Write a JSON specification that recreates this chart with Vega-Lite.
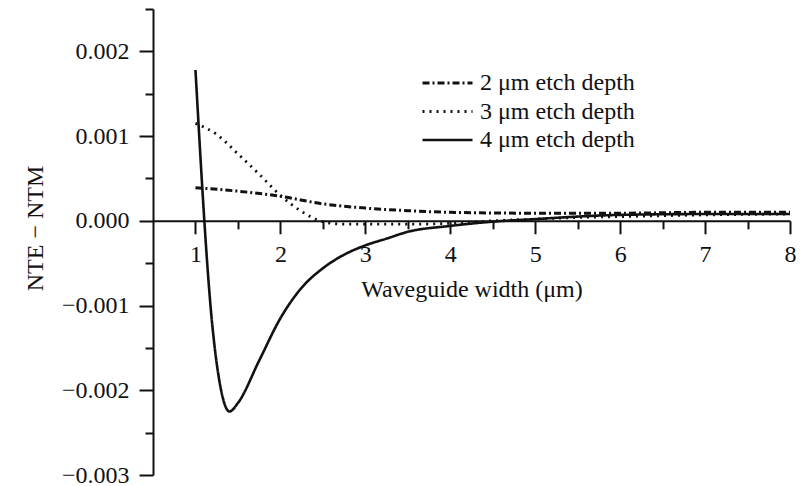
{
  "$schema": "https://vega.github.io/schema/vega-lite/v6.json",
  "width": 637,
  "height": 466,
  "autosize": {"type": "none"},
  "padding": {"left": 153, "top": 9, "right": 15, "bottom": 11},
  "background": "white",
  "config": {"view": {"stroke": null}, "font": "Liberation Serif"},
  "data": {
    "values": [
      {"series": "2 μm etch depth", "width": 1.0, "dn": 0.00039},
      {"series": "2 μm etch depth", "width": 1.5, "dn": 0.00035},
      {"series": "2 μm etch depth", "width": 2.0, "dn": 0.00029},
      {"series": "2 μm etch depth", "width": 2.5, "dn": 0.0002},
      {"series": "2 μm etch depth", "width": 3.0, "dn": 0.00015},
      {"series": "2 μm etch depth", "width": 3.5, "dn": 0.00012},
      {"series": "2 μm etch depth", "width": 4.0, "dn": 0.0001},
      {"series": "2 μm etch depth", "width": 5.0, "dn": 0.00009},
      {"series": "2 μm etch depth", "width": 6.0, "dn": 0.00009},
      {"series": "2 μm etch depth", "width": 7.0, "dn": 0.0001},
      {"series": "2 μm etch depth", "width": 8.0, "dn": 0.0001},
      {"series": "3 μm etch depth", "width": 1.0, "dn": 0.00115},
      {"series": "3 μm etch depth", "width": 1.25, "dn": 0.00102},
      {"series": "3 μm etch depth", "width": 1.5, "dn": 0.00079},
      {"series": "3 μm etch depth", "width": 1.75, "dn": 0.00055},
      {"series": "3 μm etch depth", "width": 2.0, "dn": 0.0003},
      {"series": "3 μm etch depth", "width": 2.25, "dn": 0.00011},
      {"series": "3 μm etch depth", "width": 2.5, "dn": -0.00001},
      {"series": "3 μm etch depth", "width": 2.75, "dn": -0.00004},
      {"series": "3 μm etch depth", "width": 3.0, "dn": -0.00004},
      {"series": "3 μm etch depth", "width": 3.5, "dn": -0.00004},
      {"series": "3 μm etch depth", "width": 4.0, "dn": -0.00003},
      {"series": "3 μm etch depth", "width": 4.5, "dn": 0.0},
      {"series": "3 μm etch depth", "width": 5.0, "dn": 0.00002},
      {"series": "3 μm etch depth", "width": 5.5, "dn": 0.00004},
      {"series": "3 μm etch depth", "width": 6.0, "dn": 0.00005},
      {"series": "3 μm etch depth", "width": 7.0, "dn": 0.00007},
      {"series": "3 μm etch depth", "width": 8.0, "dn": 0.00008},
      {"series": "4 μm etch depth", "width": 1.0, "dn": 0.00178},
      {"series": "4 μm etch depth", "width": 1.2, "dn": -0.00125},
      {"series": "4 μm etch depth", "width": 1.3, "dn": -0.00199},
      {"series": "4 μm etch depth", "width": 1.4, "dn": -0.00225},
      {"series": "4 μm etch depth", "width": 1.5, "dn": -0.00215},
      {"series": "4 μm etch depth", "width": 1.75, "dn": -0.00165},
      {"series": "4 μm etch depth", "width": 2.0, "dn": -0.00115},
      {"series": "4 μm etch depth", "width": 2.25, "dn": -0.00079},
      {"series": "4 μm etch depth", "width": 2.5, "dn": -0.00056},
      {"series": "4 μm etch depth", "width": 2.75, "dn": -0.0004},
      {"series": "4 μm etch depth", "width": 3.0, "dn": -0.00029},
      {"series": "4 μm etch depth", "width": 3.25, "dn": -0.00021},
      {"series": "4 μm etch depth", "width": 3.5, "dn": -0.00013},
      {"series": "4 μm etch depth", "width": 4.0, "dn": -0.00006},
      {"series": "4 μm etch depth", "width": 4.5, "dn": -0.00001},
      {"series": "4 μm etch depth", "width": 5.0, "dn": 0.00002},
      {"series": "4 μm etch depth", "width": 5.5, "dn": 0.00005},
      {"series": "4 μm etch depth", "width": 6.0, "dn": 0.00007},
      {"series": "4 μm etch depth", "width": 7.0, "dn": 0.00008},
      {"series": "4 μm etch depth", "width": 8.0, "dn": 0.00008}
    ]
  },
  "mark": {"type": "line", "interpolate": "monotone", "color": "#111", "clip": true},
  "encoding": {
    "x": {
      "field": "width",
      "type": "quantitative",
      "scale": {"domain": [0.5, 8], "nice": false, "zero": false},
      "axis": {
        "title": "Waveguide width (μm)",
        "values": [1, 1.5, 2, 2.5, 3, 3.5, 4, 4.5, 5, 5.5, 6, 6.5, 7, 7.5, 8],
        "labelExpr": "datum.value % 1 === 0 ? datum.value : ''",
        "tickSize": {"condition": {"test": "datum.value % 1 === 0", "value": 13}, "value": 8},
        "offset": -254.2,
        "grid": false,
        "domainColor": "#111",
        "domainWidth": 2,
        "tickColor": "#111",
        "tickWidth": 2,
        "labelFont": "Liberation Serif",
        "labelFontSize": 24,
        "labelColor": "#111",
        "labelPadding": 9,
        "labelFlush": false,
        "labelOverlap": false,
        "titleFont": "Liberation Serif",
        "titleFontSize": 24,
        "titleFontWeight": "normal",
        "titleColor": "#111",
        "titlePadding": 11
      }
    },
    "y": {
      "field": "dn",
      "type": "quantitative",
      "scale": {"domain": [-0.003, 0.0025], "nice": false, "zero": false},
      "axis": {
        "title": "NTE − NTM",
        "values": [-0.003, -0.0025, -0.002, -0.0015, -0.001, -0.0005, 0, 0.0005, 0.001, 0.0015, 0.002, 0.0025],
        "labelExpr": "abs(datum.value*1000 - round(datum.value*1000)) < 1e-6 ? format(datum.value, '.3f') : ''",
        "tickSize": {"condition": {"test": "abs(datum.value*1000 - round(datum.value*1000)) < 1e-6", "value": 14}, "value": 8},
        "grid": false,
        "domainColor": "#111",
        "domainWidth": 2,
        "tickColor": "#111",
        "tickWidth": 2,
        "labelFont": "Liberation Serif",
        "labelFontSize": 24,
        "labelColor": "#111",
        "labelPadding": 10,
        "labelFlush": false,
        "labelOverlap": false,
        "titleFont": "Liberation Serif",
        "titleFontSize": 24,
        "titleFontWeight": "normal",
        "titleColor": "#111",
        "titleAngle": -90,
        "titleAlign": "center",
        "titleBaseline": "middle",
        "titleX": -118,
        "titleY": 219
      }
    },
    "strokeDash": {
      "field": "series",
      "type": "nominal",
      "scale": {
        "domain": ["2 μm etch depth", "3 μm etch depth", "4 μm etch depth"],
        "range": [[7, 3, 2, 3], [2, 5], [1, 0]]
      },
      "legend": {
        "title": null,
        "orient": "none",
        "legendX": 268,
        "legendY": 62,
        "symbolType": "stroke",
        "symbolSize": 2500,
        "symbolStrokeColor": "#111",
        "clipHeight": 24,
        "labelFont": "Liberation Serif",
        "labelFontSize": 24,
        "labelColor": "#111",
        "labelOffset": 6,
        "rowPadding": 4.5
      }
    },
    "strokeWidth": {
      "field": "series",
      "type": "nominal",
      "scale": {
        "domain": ["2 μm etch depth", "3 μm etch depth", "4 μm etch depth"],
        "range": [3, 2.6, 3.8]
      }
    }
  }
}
